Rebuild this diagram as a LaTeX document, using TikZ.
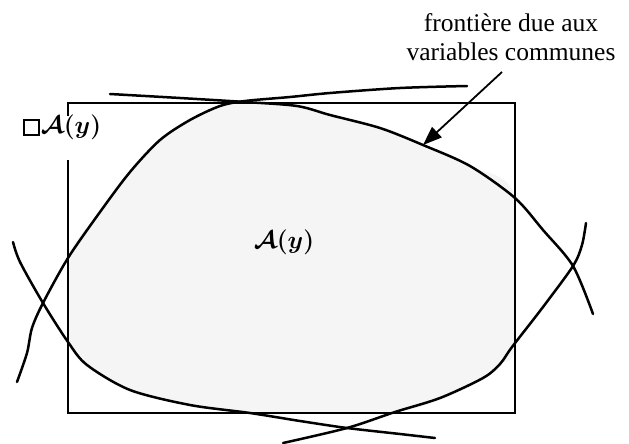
\documentclass[tikz,border=0pt]{standalone}
\usepackage{fontspec}
\setmainfont{Liberation Serif}
\usepackage{amssymb}
\usepackage{tikz}
\usetikzlibrary{arrows.meta}
\definecolor{TraitNoir}{HTML}{000000}
\definecolor{ZoneFond}{HTML}{F5F5F5}
\newcommand{\boiteCarre}{{\setlength{\fboxrule}{2pt}\setlength{\fboxsep}{0pt}%
  \raisebox{-0.5pt}{\fbox{\rule{0pt}{13pt}\hspace{13pt}}}}}
\tikzset{
  bord cadre/.style={
    line width=1.7pt,
    draw=TraitNoir
  },
  bord courbe/.style={
    line width=2.5pt,
    draw=TraitNoir,
    line cap=round,
    line join=round
  },
  zone label/.style={
    font=\fontsize{24}{26}\selectfont\boldmath,
    inner sep=0pt
  },
  note label/.style={
    font=\fontsize{25.5}{29}\selectfont,
    align=center,
    inner sep=0pt
  },
  fleche/.style={-{Triangle[length=19pt,width=14pt]}, line width=1.8pt}
}

\begin{document}
\begin{tikzpicture}[x=1pt, y=-1pt]
  \useasboundingbox (0,0) rectangle (629,444);

  \begin{scope}
    \clip (68,103) rectangle (515,413);
    \fill[ZoneFond] plot[smooth cycle] coordinates {
      (68,258) (100,212) (130,172) (160,140) (190,120) (220,106) (245,102)
      (297,106) (330,115) (380,128) (423,145) (470,166) (515,197)
      (515,345) (500,364) (470,387) (395,412) (250,413) (190,405)
      (130,390) (95,370) (68,342)};
  \end{scope}

  \draw[bord cadre] (68,116) -- (68,103) -- (515,103) -- (515,413)
    -- (68,413) -- (68,160);
  \draw[bord courbe] (515,198) -- (515,346);

  \draw[bord courbe] plot[smooth] coordinates {
    (110,94) (180,98) (245,102) (297,106) (330,115) (380,128) (423,145)
    (470,166) (515,198) (543,230) (573,266) (593,314)};
  \draw[bord courbe] plot[smooth] coordinates {
    (17,382) (27,353) (32,328) (43,303) (68,258) (100,212) (130,172)
    (160,140) (190,120) (220,106) (245,101) (290,97) (330,93) (400,88)
    (467,86)};
  \draw[bord courbe] plot[smooth] coordinates {
    (13,242) (20,262) (43,303) (68,342) (87,365) (130,390) (190,405)
    (250,413) (300,421) (347,428) (400,434) (435,438)};
  \draw[bord courbe] plot[smooth] coordinates {
    (283,443) (347,428) (395,412) (440,398) (483,378) (500,364) (512,347)
    (543,307) (573,266) (582,245) (586,223)};

  \node[note label] (frontiere) at (511,37)
    {fronti\`ere due aux\\variables communes};
  \coordinate (fdepart) at (502,72);
  \coordinate (fpointe) at (423,145);
  \draw[fleche] (fdepart) -- (fpointe);

  \node[zone label] (Aint) at (284,242) {$\mathcal{A}(y)$};
  \node[zone label] (Abord) at (62,127)
    {\boiteCarre\kern1pt$\mathcal{A}(y)$};
\end{tikzpicture}
\end{document}
